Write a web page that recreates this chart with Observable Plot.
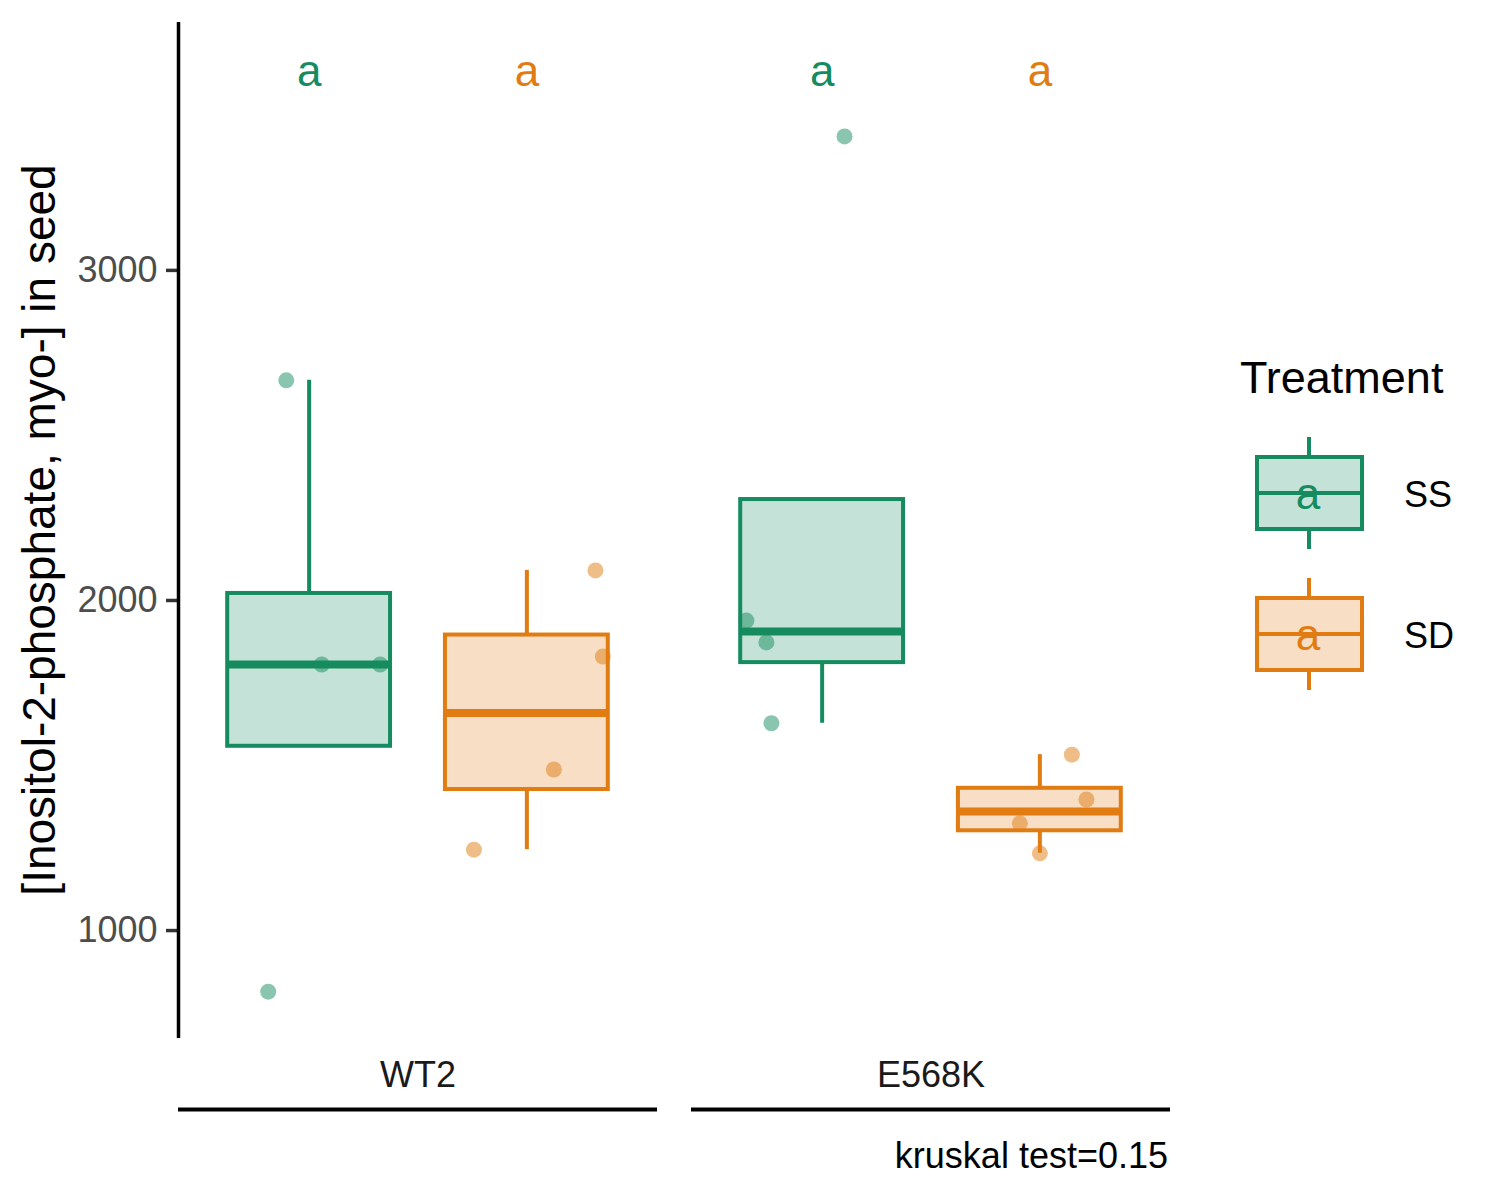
<!DOCTYPE html>
<html><head><meta charset="utf-8">
<script src="https://cdn.jsdelivr.net/npm/d3@7"></script>
<script src="https://cdn.jsdelivr.net/npm/@observablehq/plot@0.6"></script>
<style>
body{margin:0;background:#fff}
#chart{width:1500px;height:1200px;position:relative}
</style>
</head><body><div id="chart"></div>
<script>
// ---- data ----
const genotypes = ["WT2", "E568K"];
const treatments = ["SS", "SD"];
const colors = ["#158B5F", "#E07C12"];
const wt2SS = [2667, 1806, 1806, 815];
const wt2SD = [2091, 1830, 1488, 1245];
const e568kSS = [3406, 1939, 1873, 1628];
const e568kSD = [1533, 1397, 1325, 1234];
// horizontal jitter of each point (fraction of the box spacing)
const wt2SSJitter = [-0.105, 0.058, 0.326, -0.188];
const wt2SDJitter = [0.315, 0.349, 0.124, -0.243];
const e568kSSJitter = [0.103, -0.348, -0.256, -0.233];
const e568kSDJitter = [0.147, 0.214, -0.092, 0.0];
const letters = ["a", "a", "a", "a"]; // WT2 SS, WT2 SD, E568K SS, E568K SD
const letterY = 3600;
const yTicks = [1000, 2000, 3000];
const yDomain = [673, 3751];
const xDomain = [-0.6, 1.6];
const yLabel = "[Inositol-2-phosphate, myo-] in seed";
const legendTitle = "Treatment";
const caption = "kruskal test=0.15";

const groups = [
  {genotype: "WT2", treatment: "SS", values: wt2SS, jitter: wt2SSJitter},
  {genotype: "WT2", treatment: "SD", values: wt2SD, jitter: wt2SDJitter},
  {genotype: "E568K", treatment: "SS", values: e568kSS, jitter: e568kSSJitter},
  {genotype: "E568K", treatment: "SD", values: e568kSD, jitter: e568kSDJitter}
];
groups.forEach((g, i) => { g.xi = treatments.indexOf(g.treatment); g.letter = letters[i]; });

const points = groups.flatMap(g => g.values.map((v, j) => ({
  genotype: g.genotype, treatment: g.treatment, x: g.xi + g.jitter[j], value: v
})));

// ggplot-style box statistics
const stats = groups.map(g => {
  const s = g.values.slice().sort(d3.ascending);
  const q1 = d3.quantile(s, 0.25), med = d3.quantile(s, 0.5), q3 = d3.quantile(s, 0.75);
  const iqr = q3 - q1;
  const inside = s.filter(v => v >= q1 - 1.5 * iqr && v <= q3 + 1.5 * iqr);
  const all = [q1, med, q3, ...inside];
  return {genotype: g.genotype, treatment: g.treatment, xi: g.xi, q1, med, q3, lo: d3.min(all), hi: d3.max(all)};
});

const halfW = 0.374;
const FONT = "'Liberation Sans', Arial, Helvetica, sans-serif";

const plot = Plot.plot({
  width: 1500,
  height: 1200,
  marginLeft: 178,
  marginRight: 330,
  marginTop: 22,
  marginBottom: 162,
  style: {fontFamily: FONT, fontSize: "36px", background: "#fff", overflow: "visible"},
  fx: {domain: genotypes, paddingInner: 0.0663, paddingOuter: 0},
  x: {domain: xDomain, axis: null},
  y: {domain: yDomain},
  color: {domain: treatments, range: colors},
  marks: [
    Plot.axisY({ticks: yTicks, tickFormat: d => String(d), tickSize: 12, tickPadding: 9,
      fill: "#4d4d4d", stroke: "#333333", strokeWidth: 3.5, label: null, fontSize: 36}),
    Plot.axisFx({anchor: "bottom", tickSize: 0, tickPadding: 23, label: null, fontSize: 36, fill: "#1a1a1a"}),
    // y axis line (left facet only)
    Plot.ruleX([genotypes[0]], {fx: d => d, x: () => xDomain[0], y1: () => yDomain[0], y2: () => yDomain[1],
      stroke: "#000", strokeWidth: 3.5}),
    // facet strip lines under the labels
    Plot.ruleY(genotypes, {fx: d => d, y: () => yDomain[0], dy: 71, stroke: "#000", strokeWidth: 4}),
    // whiskers
    Plot.ruleX(stats, {fx: "genotype", x: "xi", y1: "q3", y2: "hi", stroke: "treatment", strokeWidth: 4}),
    Plot.ruleX(stats, {fx: "genotype", x: "xi", y1: "lo", y2: "q1", stroke: "treatment", strokeWidth: 4}),
    // boxes
    Plot.rect(stats, {fx: "genotype", x1: d => d.xi - halfW, x2: d => d.xi + halfW, y1: "q1", y2: "q3",
      fill: "treatment", fillOpacity: 0.25, stroke: "treatment", strokeWidth: 4}),
    // medians
    Plot.ruleY(stats, {fx: "genotype", y: "med", x1: d => d.xi - halfW, x2: d => d.xi + halfW,
      stroke: "treatment", strokeWidth: 8}),
    // jittered points
    Plot.dot(points, {fx: "genotype", x: "x", y: "value", r: 8, fill: "treatment", fillOpacity: 0.5, stroke: null}),
    // letters
    Plot.text(groups, {fx: "genotype", x: "xi", y: () => letterY, text: "letter", fill: "treatment", fontSize: 44})
  ]
});

document.getElementById("chart").appendChild(plot);

// ---- y title, legend, caption ----
const svg = d3.select(plot);
svg.append("text")
  .attr("transform", "translate(55,530) rotate(-90)")
  .attr("text-anchor", "middle")
  .attr("font-size", 46).attr("font-family", FONT).attr("fill", "#000")
  .text(yLabel);

const leg = svg.append("g").attr("font-family", FONT).attr("text-anchor", "start");
leg.append("text").attr("x", 1240).attr("y", 393).attr("font-size", 45).attr("fill", "#000")
  .attr("text-anchor", "start").text(legendTitle);
const keyTops = [437, 578];
treatments.forEach((t, i) => {
  const top = keyTops[i];
  const c = colors[i];
  const g = leg.append("g");
  // whisker segments outside the box
  g.append("line").attr("x1", 1309).attr("x2", 1309).attr("y1", top).attr("y2", top + 20)
    .attr("stroke", c).attr("stroke-width", 4);
  g.append("line").attr("x1", 1309).attr("x2", 1309).attr("y1", top + 92).attr("y2", top + 112)
    .attr("stroke", c).attr("stroke-width", 4);
  g.append("rect").attr("x", 1257).attr("y", top + 20).attr("width", 105).attr("height", 72)
    .attr("fill", c).attr("fill-opacity", 0.25).attr("stroke", c).attr("stroke-width", 4);
  g.append("line").attr("x1", 1257).attr("x2", 1362).attr("y1", top + 56).attr("y2", top + 56)
    .attr("stroke", c).attr("stroke-width", 4);
  g.append("text").attr("x", 1308).attr("y", top + 72).attr("text-anchor", "middle")
    .attr("font-size", 44).attr("fill", c).text(letters[0]);
  g.append("text").attr("x", 1404).attr("y", top + 70).attr("text-anchor", "start")
    .attr("font-size", 36).attr("fill", "#000").text(t);
});

svg.append("text").attr("x", 1168).attr("y", 1168).attr("text-anchor", "end")
  .attr("font-size", 36).attr("font-family", FONT).attr("fill", "#000").text(caption);
</script>
</body></html>
